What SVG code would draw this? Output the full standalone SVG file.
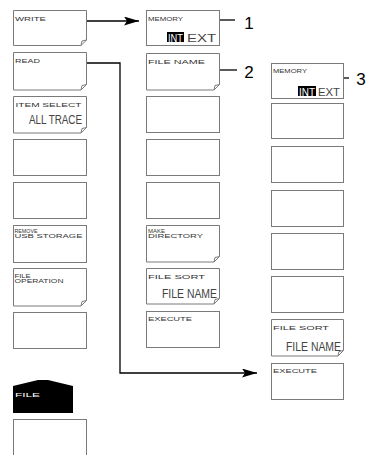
<svg xmlns="http://www.w3.org/2000/svg" width="377" height="455" viewBox="0 0 377 455">
<defs>
<style>
.box{fill:#fff;stroke:#7a7a7a;stroke-width:1}
.fold{fill:none;stroke:#7a7a7a;stroke-width:1}
.lbl{font-family:"Liberation Sans",Arial,sans-serif;font-size:6px;fill:#333}
.big{font-family:"Liberation Sans",Arial,sans-serif;font-size:12px;fill:#444;text-anchor:end}
.ie{font-family:"Liberation Sans",Arial,sans-serif;font-size:11px}
.num{font-family:"Liberation Sans",Arial,sans-serif;font-size:17px;fill:#000;text-anchor:middle}
.con{fill:none;stroke:#000;stroke-width:1.3}
</style>
<marker id="arr" markerWidth="16" markerHeight="10" refX="15" refY="4.5" orient="auto" markerUnits="userSpaceOnUse">
<path d="M0,0 L15,4.5 L0,9 L3,4.5 Z" fill="#000"/>
</marker>
</defs>

<g id="connectors">
<path class="con" d="M86,21 H139" marker-end="url(#arr)"/>
<path class="con" d="M86,63 H120 V373 H257" marker-end="url(#arr)"/>
<path class="con" d="M219,20 H235"/>
<path class="con" d="M217,70 H237"/>
<path class="con" d="M337,78 H349"/>
</g>

<!-- left column -->
<g id="write">
<path class="box" d="M13.5,10.5 H86.5 V40 L81,45.5 H13.5 Z"/>
<path class="fold" d="M81,45.5 L82,41 L86.5,40"/>
<text class="lbl" x="15" y="20.5" textLength="31" lengthAdjust="spacingAndGlyphs">WRITE</text>
</g>
<g id="read">
<path class="box" d="M13.5,52.5 H86.5 V84.5 L81,90 H13.5 Z"/>
<path class="fold" d="M81,90 L82,85.5 L86.5,84.5"/>
<text class="lbl" x="15" y="62.5" textLength="25" lengthAdjust="spacingAndGlyphs">READ</text>
</g>
<g id="item-select">
<path class="box" d="M13.5,96.5 H86.5 V127.5 L81,133 H13.5 Z"/>
<path class="fold" d="M81,133 L82,128.5 L86.5,127.5"/>
<text class="lbl" x="15.5" y="106.5" textLength="66" lengthAdjust="spacingAndGlyphs">ITEM SELECT</text>
<text class="big" x="82" y="123.5" textLength="53" lengthAdjust="spacingAndGlyphs">ALL TRACE</text>
</g>
<g id="left-4"><rect class="box" x="13.5" y="139.5" width="73" height="36"/></g>
<g id="left-5"><rect class="box" x="13.5" y="182.5" width="73" height="36"/></g>
<g id="remove-usb">
<rect class="box" x="13.5" y="225.5" width="73" height="37"/>
<text class="lbl" x="14.5" y="232.5" textLength="23" lengthAdjust="spacingAndGlyphs">REMOVE</text>
<text class="lbl" x="14.5" y="237.5" textLength="68" lengthAdjust="spacingAndGlyphs">USB STORAGE</text>
</g>
<g id="file-operation">
<path class="box" d="M13.5,268.5 H86.5 V300.5 L81,306 H13.5 Z"/>
<path class="fold" d="M81,306 L82,301.5 L86.5,300.5"/>
<text class="lbl" x="14.5" y="277.5" textLength="16" lengthAdjust="spacingAndGlyphs">FILE</text>
<text class="lbl" x="14.5" y="282.7" textLength="49" lengthAdjust="spacingAndGlyphs">OPERATION</text>
</g>
<g id="left-8"><rect class="box" x="13.5" y="312.5" width="73" height="36"/></g>
<g id="file-tab">
<path d="M13,413 V386 L38,380 H48 L73,386 V413 Z" fill="#000"/>
<text class="lbl" x="15" y="397" textLength="25" lengthAdjust="spacingAndGlyphs" style="fill:#fff">FILE</text>
</g>
<g id="left-bottom"><rect class="box" x="13.5" y="419.5" width="73" height="45"/></g>

<!-- middle column -->
<g id="memory-1">
<rect class="box" x="146.5" y="10.5" width="73" height="35"/>
<text class="lbl" x="148" y="20.5" textLength="35" lengthAdjust="spacingAndGlyphs">MEMORY</text>
<rect x="167" y="32" width="17" height="10" fill="#000"/>
<text class="ie" x="168" y="41.5" textLength="15" lengthAdjust="spacingAndGlyphs" fill="#fff">INT</text>
<text class="ie" x="187" y="41.5" textLength="29" lengthAdjust="spacingAndGlyphs" fill="#444">EXT</text>
</g>
<g id="file-name">
<path class="box" d="M146.5,53.5 H219.5 V84.5 L214,90 H146.5 Z"/>
<path class="fold" d="M214,90 L215,85.5 L219.5,84.5"/>
<text class="lbl" x="148" y="63.5" textLength="57" lengthAdjust="spacingAndGlyphs">FILE NAME</text>
</g>
<g id="mid-3"><rect class="box" x="146.5" y="96.5" width="73" height="36"/></g>
<g id="mid-4"><rect class="box" x="146.5" y="139.5" width="73" height="36"/></g>
<g id="mid-5"><rect class="box" x="146.5" y="182.5" width="73" height="36"/></g>
<g id="make-directory">
<path class="box" d="M146.5,225.5 H219.5 V256.5 L214,262 H146.5 Z"/>
<path class="fold" d="M214,262 L215,257.5 L219.5,256.5"/>
<text class="lbl" x="148" y="232.5" textLength="17" lengthAdjust="spacingAndGlyphs">MAKE</text>
<text class="lbl" x="148" y="237.5" textLength="55" lengthAdjust="spacingAndGlyphs">DIRECTORY</text>
</g>
<g id="file-sort-1">
<path class="box" d="M146.5,268.5 H219.5 V298.5 L214,304 H146.5 Z"/>
<path class="fold" d="M214,304 L215,299.5 L219.5,298.5"/>
<text class="lbl" x="148" y="278.5" textLength="57" lengthAdjust="spacingAndGlyphs">FILE SORT</text>
<text class="big" x="217" y="298" textLength="55" lengthAdjust="spacingAndGlyphs">FILE NAME</text>
</g>
<g id="execute-1">
<rect class="box" x="146.5" y="311.5" width="73" height="36"/>
<text class="lbl" x="148" y="321" textLength="44" lengthAdjust="spacingAndGlyphs">EXECUTE</text>
</g>

<!-- right column -->
<g id="memory-2">
<rect class="box" x="271.5" y="63.5" width="72" height="35"/>
<text class="lbl" x="273" y="73" textLength="34" lengthAdjust="spacingAndGlyphs">MEMORY</text>
<rect x="298" y="86" width="18" height="10" fill="#000"/>
<text class="ie" x="299" y="95.5" textLength="16" lengthAdjust="spacingAndGlyphs" fill="#fff">INT</text>
<text class="ie" x="318" y="95.5" textLength="22" lengthAdjust="spacingAndGlyphs" fill="#444">EXT</text>
</g>
<g id="right-2"><rect class="box" x="271.5" y="103.5" width="72" height="35"/></g>
<g id="right-3"><rect class="box" x="271.5" y="146.5" width="72" height="36"/></g>
<g id="right-4"><rect class="box" x="271.5" y="190.5" width="72" height="36"/></g>
<g id="right-5"><rect class="box" x="271.5" y="233.5" width="72" height="36"/></g>
<g id="right-6"><rect class="box" x="271.5" y="276.5" width="72" height="36"/></g>
<g id="file-sort-2">
<path class="box" d="M271.5,319.5 H343.5 V350.5 L338,356 H271.5 Z"/>
<path class="fold" d="M338,356 L339,351.5 L343.5,350.5"/>
<text class="lbl" x="273" y="329.5" textLength="56" lengthAdjust="spacingAndGlyphs">FILE SORT</text>
<text class="big" x="341" y="351" textLength="55" lengthAdjust="spacingAndGlyphs">FILE NAME</text>
</g>
<g id="execute-2">
<rect class="box" x="271.5" y="363.5" width="72" height="36"/>
<text class="lbl" x="273" y="373" textLength="44" lengthAdjust="spacingAndGlyphs">EXECUTE</text>
</g>

<g id="callouts">
<text class="num" x="249" y="29">1</text>
<text class="num" x="249" y="78">2</text>
<text class="num" x="361" y="85">3</text>
</g>
</svg>
